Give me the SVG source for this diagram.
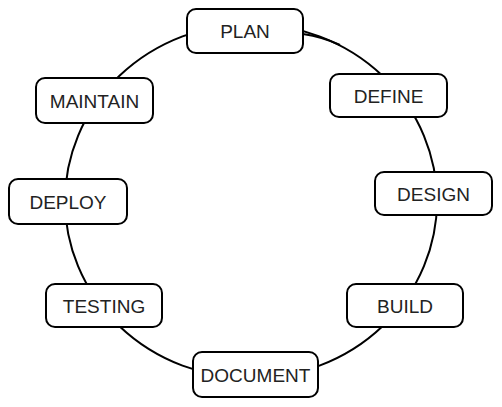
<svg xmlns="http://www.w3.org/2000/svg" width="502" height="407" viewBox="0 0 502 407">
<style>
.node rect{fill:#fff;stroke:#000;stroke-width:2}
.node text{font-family:"Liberation Sans",Arial,sans-serif;font-size:19px;fill:#222;text-anchor:middle}
.conn{fill:none;stroke:#000;stroke-width:2}
</style>
<rect width="502" height="407" fill="#fff"/>
<g id="connectors">
<ellipse class="conn" cx="251" cy="201" rx="186" ry="177"/>
<path class="conn" d="M303 34 Q323 37 340 45" stroke-width="1.2"/>
</g>
<g id="plan" class="node"><rect x="187" y="9" width="116" height="44" rx="9"/><text x="245" y="38">PLAN</text></g>
<g id="define" class="node"><rect x="330" y="74" width="117" height="43" rx="9"/><text x="388.5" y="102.5">DEFINE</text></g>
<g id="design" class="node"><rect x="375" y="172" width="117" height="43" rx="9"/><text x="433.5" y="200.5">DESIGN</text></g>
<g id="build" class="node"><rect x="347" y="284" width="116" height="43" rx="9"/><text x="405" y="312.5">BUILD</text></g>
<g id="document" class="node"><rect x="193" y="352" width="125" height="45" rx="9"/><text x="255.5" y="381.5">DOCUMENT</text></g>
<g id="testing" class="node"><rect x="46" y="284" width="116" height="43" rx="9"/><text x="104" y="312.5">TESTING</text></g>
<g id="deploy" class="node"><rect x="9" y="179" width="118" height="45" rx="9"/><text x="68" y="208.5">DEPLOY</text></g>
<g id="maintain" class="node"><rect x="36" y="78" width="117" height="45" rx="9"/><text x="94.5" y="107.5">MAINTAIN</text></g>
</svg>
